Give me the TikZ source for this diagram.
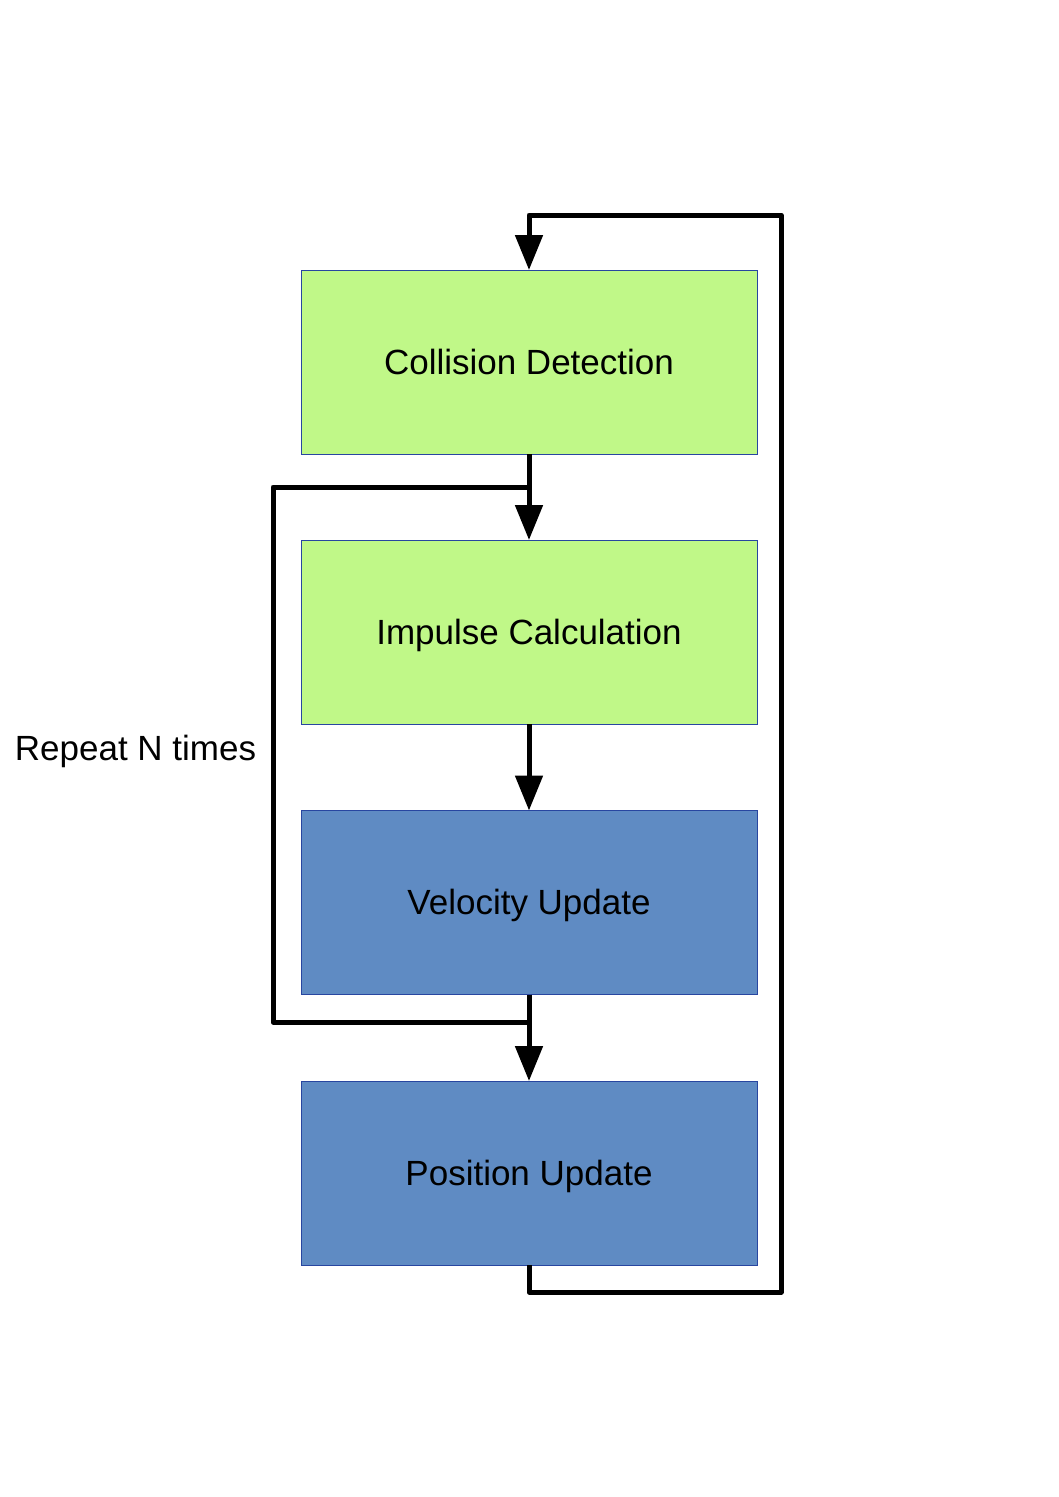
\documentclass[tikz,border=0pt]{standalone}
\usepackage{fontspec}
\setmainfont{Liberation Sans}
\usetikzlibrary{arrows.meta}
\definecolor{boxgreen}{RGB}{192,248,136}
\definecolor{boxblue}{RGB}{95,139,195}
\definecolor{boxborder}{RGB}{40,70,160}
\begin{document}
\begin{tikzpicture}[x=1pt,y=-1pt,
  lbl/.style={font=\fontsize{35}{42}\selectfont, text height=31pt, text depth=7pt},
  stage/.style={rectangle, lbl, draw=boxborder, line width=1pt, minimum width=456pt, minimum height=184pt, inner sep=0pt, outer sep=0pt},
  gstage/.style={stage, fill=boxgreen},
  bstage/.style={stage, fill=boxblue},
  conn/.style={line width=5pt, line join=round, draw=black},
  arr/.style={conn, -{Triangle[length=35pt,width=27pt]}}]
\useasboundingbox (0,0) rectangle (1058,1497);
\node[gstage] (cd) at (529,362) {Collision Detection};
\node[gstage] (ic) at (529,632) {Impulse Calculation};
\node[bstage] (vu) at (529,902.5) {Velocity Update};
\node[bstage] (pu) at (529,1173) {Position Update};
\node[lbl, inner sep=0pt] (rep) at (135.5,748) {Repeat N times};
\coordinate (j1) at (529,487);
\coordinate (j2) at (529,1022);
\coordinate (lx) at (273,0);
\coordinate (ob) at (529,1292);
\coordinate (ot) at (529,215);
\coordinate (rx) at (781,0);
\draw[arr] (cd.south) -- (ic.north);
\draw[arr] (ic.south) -- (vu.north);
\draw[arr] (vu.south) -- (pu.north);
\draw[conn] (vu.south) -- (j2) -- (j2 -| lx) -- (j1 -| lx) -- (j1);
\draw[arr] (pu.south) -- (ob) -- (ob -| rx) -- (ot -| rx) -- (ot) -- (cd.north);
\end{tikzpicture}
\end{document}
